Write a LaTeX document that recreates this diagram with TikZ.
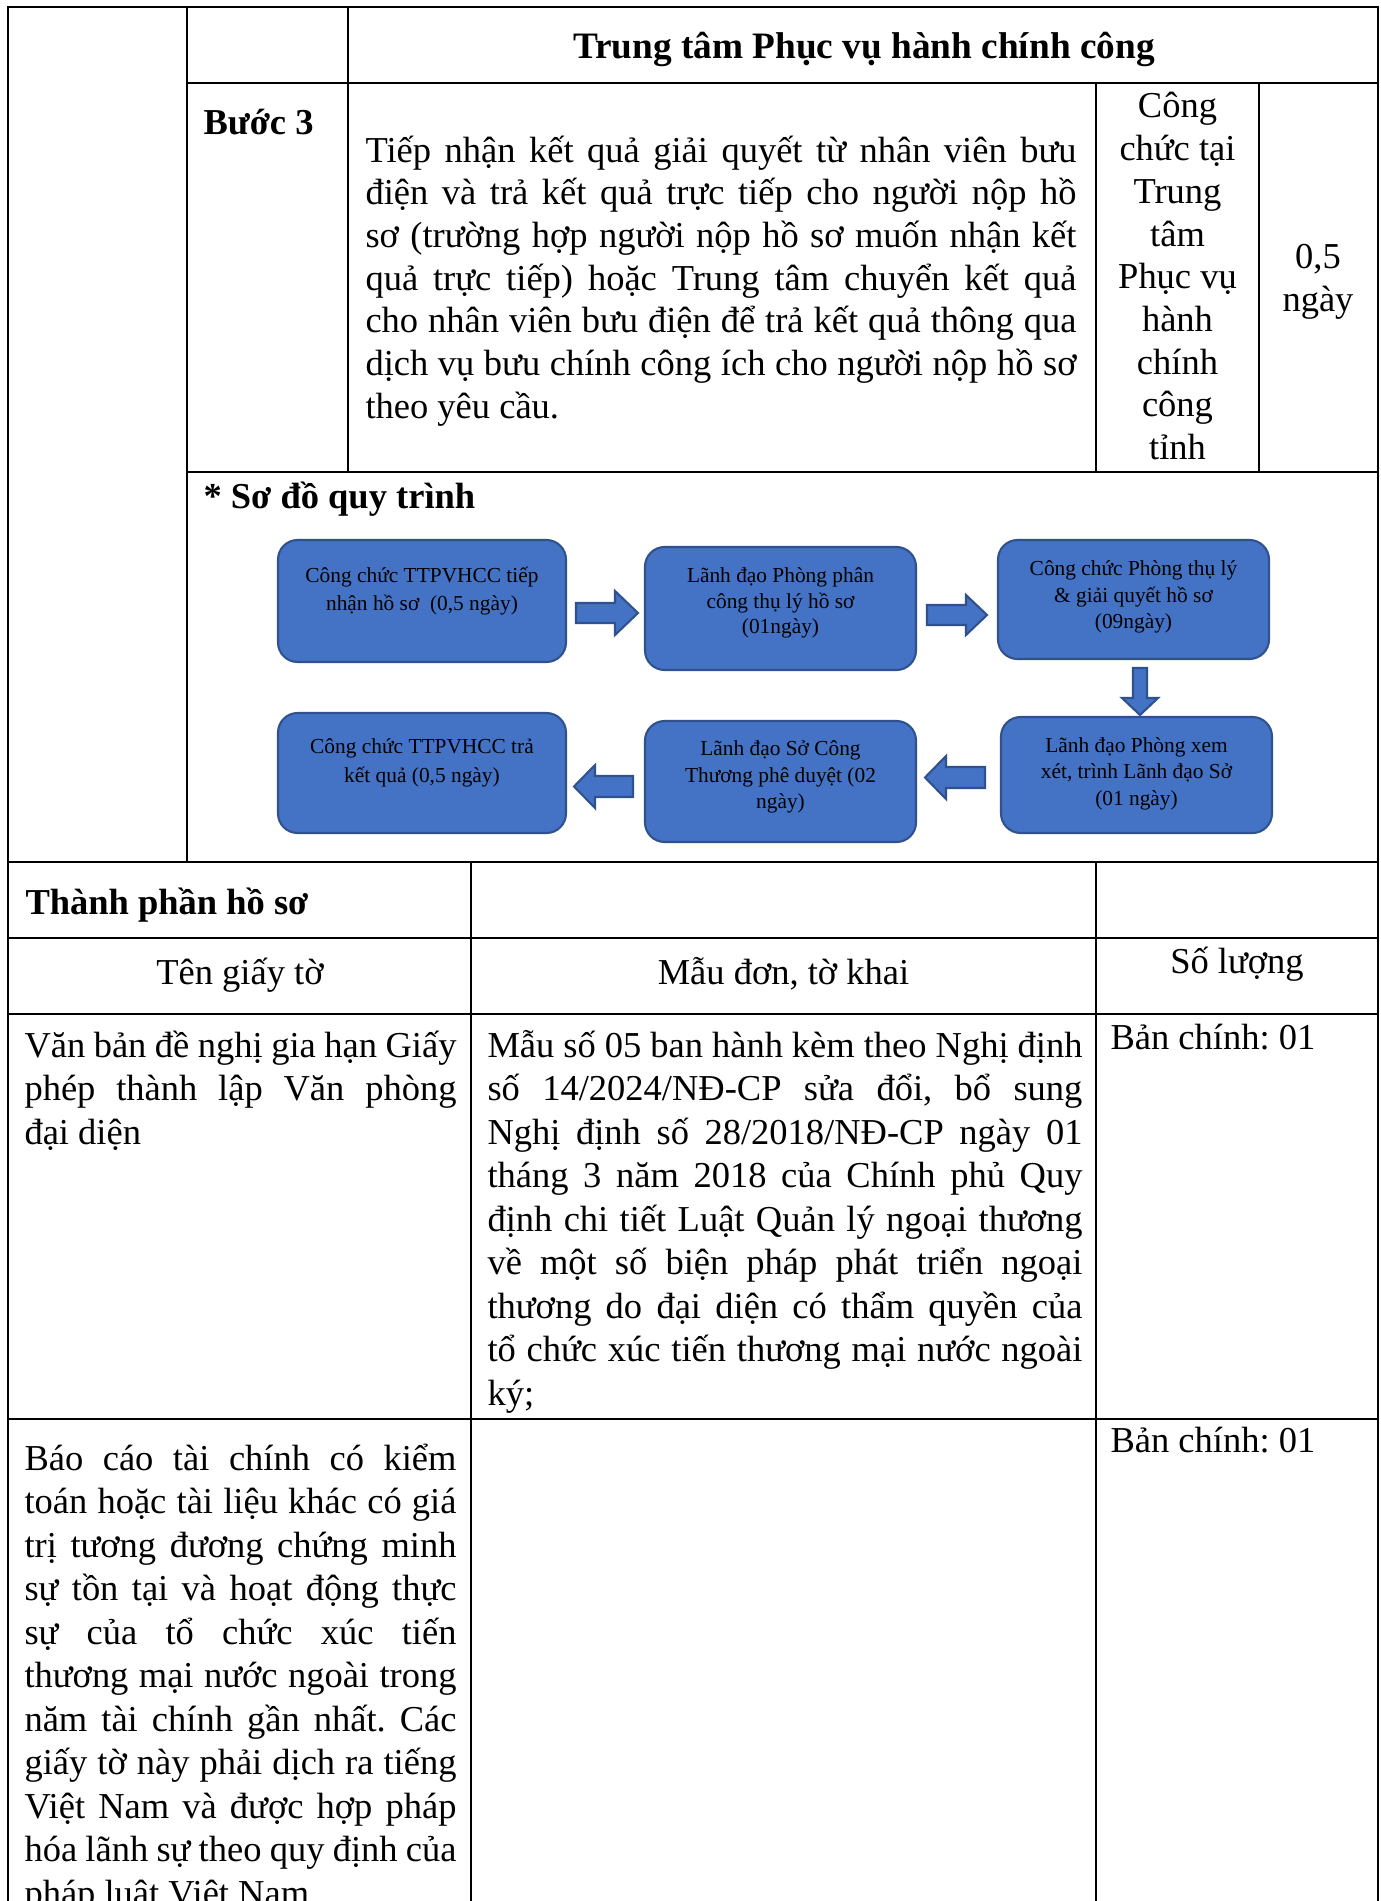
\documentclass[tikz,border=0pt]{standalone}
\usepackage{fontspec}
\setmainfont{Liberation Serif}
\usetikzlibrary{calc}
\frenchspacing
\newdimen\pxu
\pxu=0.3836pt
\definecolor{boxfill}{HTML}{4472C4}
\definecolor{boxedge}{HTML}{2F528F}
\tikzset{
  grid/.style={line width=0.85pt, line cap=rect},
  tl/.style={anchor=base west, inner sep=0pt, font=\fontsize{14}{16}\selectfont},
  tc/.style={anchor=base, inner sep=0pt, font=\fontsize{14}{16}\selectfont},
  tlb/.style={tl, font=\fontsize{14}{16}\selectfont\bfseries},
  tcb/.style={tc, font=\fontsize{14.3}{16}\selectfont\bfseries},
  flowbox/.style={draw=boxedge, fill=boxfill, line width=0.8pt, rounded corners=7.5pt, inner sep=0pt},
  flowtxt/.style={anchor=base, inner sep=0pt, font=\fontsize{8.2}{10}\selectfont},
  blockarrow/.style={draw=boxedge, fill=boxfill, line width=0.8pt, line join=miter}
}
\begin{document}
\begin{tikzpicture}[x=0.3836pt, y=-0.3836pt]
\useasboundingbox (0,0) rectangle (1381,1901);
\fill[white] (0,0) rectangle (1381,1901);

% ---------- table grid ----------
\draw[grid] (8,7) -- (1378,7);
\draw[grid] (8,7) -- (8,1905);
\draw[grid] (1378,7) -- (1378,1905);
\draw[grid] (187,7) -- (187,862);
\draw[grid] (348,7) -- (348,472);
\draw[grid] (187,83) -- (1378,83);
\draw[grid] (1096,83) -- (1096,472);
\draw[grid] (1259,83) -- (1259,472);
\draw[grid] (187,472) -- (1378,472);
\draw[grid] (8,862) -- (1378,862);
\draw[grid] (471,862) -- (471,1905);
\draw[grid] (1096,862) -- (1096,1905);
\draw[grid] (8,938) -- (1378,938);
\draw[grid] (8,1014) -- (1378,1014);
\draw[grid] (8,1419) -- (1378,1419);

% ---------- header and step 3 ----------
\node[tcb] (head) at (864,59) {Trung tâm Phục vụ hành chính công};
\node[tlb] (step) at (203,135) {Bước 3};

\foreach \t [count=\i from 0] in {
  {Tiếp nhận kết quả giải quyết từ nhân viên bưu},
  {điện và trả kết quả trực tiếp cho người nộp hồ},
  {sơ (trường hợp người nộp hồ sơ muốn nhận kết},
  {quả trực tiếp) hoặc Trung tâm chuyển kết quả},
  {cho nhân viên bưu điện để trả kết quả thông qua},
  {dịch vụ bưu chính công ích cho người nộp hồ sơ}}
  {\node[tl] (par\i) at (365,{162+42.7*\i}) {\makebox[711\pxu][s]{\t}};}
\node[tl] (par6) at (365,{162+42.7*6}) {theo yêu cầu.};

\foreach \t [count=\i from 0] in {Công,chức tại,Trung,tâm,Phục vụ,hành,chính,công,tỉnh}
  {\node[tc] (who\i) at (1177.5,{118+42.7*\i}) {\t};}

\node[tc] (time1) at (1318,268) {0,5};
\node[tc] (time2) at (1318,311) {ngày};

% ---------- process diagram ----------
\node[tlb] (sodo) at (203,508) {* Sơ đồ quy trình};

\node[flowbox, minimum width=288\pxu, minimum height=122\pxu] (b1) at (422,601) {};
\node[flowbox, minimum width=271\pxu, minimum height=123\pxu] (b2) at (780.5,608.5) {};
\node[flowbox, minimum width=271\pxu, minimum height=119\pxu] (b3) at (1133.5,599.5) {};
\node[flowbox, minimum width=288\pxu, minimum height=120\pxu] (b4) at (422,773) {};
\node[flowbox, minimum width=271\pxu, minimum height=121\pxu] (b5) at (780.5,781.5) {};
\node[flowbox, minimum width=271\pxu, minimum height=116\pxu] (b6) at (1136.5,775) {};

\node[flowtxt] (b1a) at (422,582) {Công chức TTPVHCC tiếp};
\node[flowtxt] (b1b) at (422,610) {nhận hồ sơ\ \ (0,5 ngày)};

\node[flowtxt] (b2a) at (780.5,582) {Lãnh đạo Phòng phân};
\node[flowtxt] (b2b) at (780.5,608) {công thụ lý hồ sơ};
\node[flowtxt] (b2c) at (780.5,633) {(01ngày)};

\node[flowtxt] (b3a) at (1133.5,575) {Công chức Phòng thụ lý};
\node[flowtxt] (b3b) at (1133.5,602) {\& giải quyết hồ sơ};
\node[flowtxt] (b3c) at (1133.5,628) {(09ngày)};

\node[flowtxt] (b4a) at (422,753) {Công chức TTPVHCC trả};
\node[flowtxt] (b4b) at (422,782) {kết quả (0,5 ngày)};

\node[flowtxt] (b5a) at (780.5,755) {Lãnh đạo Sở Công};
\node[flowtxt] (b5b) at (780.5,782) {Thương phê duyệt (02};
\node[flowtxt] (b5c) at (780.5,808) {ngày)};

\node[flowtxt] (b6a) at (1136.5,752) {Lãnh đạo Phòng xem};
\node[flowtxt] (b6b) at (1136.5,778) {xét, trình Lãnh đạo Sở};
\node[flowtxt] (b6c) at (1136.5,805) {(01 ngày)};

% block arrows
\draw[blockarrow] (576,603) -- (615,603) -- (615,591) -- (638,613) -- (615,635) -- (615,623) -- (576,623) -- cycle;
\draw[blockarrow] (927,605) -- (966,605) -- (966,595) -- (987,615) -- (966,635) -- (966,625) -- (927,625) -- cycle;
\draw[blockarrow] (1133,668) -- (1147,668) -- (1147,698) -- (1158,698) -- (1140,715) -- (1122,698) -- (1133,698) -- cycle;
\draw[blockarrow] (985,767) -- (946,767) -- (946,756) -- (925,777.5) -- (946,799) -- (946,788) -- (985,788) -- cycle;
\draw[blockarrow] (633,776) -- (595,776) -- (595,765) -- (574,786.5) -- (595,808) -- (595,797) -- (633,797) -- cycle;

% ---------- documents table ----------
\node[tlb] (tp) at (25,914) {Thành phần hồ sơ};
\node[tc] (h1) at (240,984) {Tên giấy tờ};
\node[tc] (h2) at (783.5,984) {Mẫu đơn, tờ khai};
\node[tc] (h3) at (1237,973) {Số lượng};

\node[tl] (v0) at (24,1057) {\makebox[432\pxu][s]{Văn bản đề nghị gia hạn Giấy}};
\node[tl] (v1) at (24,{1057+43.5}) {\makebox[432\pxu][s]{phép thành lập Văn phòng}};
\node[tl] (v2) at (24,{1057+87}) {đại diện};

\foreach \t [count=\i from 0] in {
  {Mẫu số 05 ban hành kèm theo Nghị định},
  {số 14/2024/NĐ-CP sửa đổi, bổ sung},
  {Nghị định số 28/2018/NĐ-CP ngày 01},
  {tháng 3 năm 2018 của Chính phủ Quy},
  {định chi tiết Luật Quản lý ngoại thương},
  {về một số biện pháp phát triển ngoại},
  {thương do đại diện có thẩm quyền của},
  {tổ chức xúc tiến thương mại nước ngoài}}
  {\node[tl] (m\i) at (487,{1057+43.5*\i}) {\makebox[595\pxu][s]{\t}};}
\node[tl] (m8) at (487,{1057+43.5*8}) {ký;};

\node[tl] (q1) at (1110,1049) {Bản chính: 01};
\node[tl] (q2) at (1110,1452) {Bản chính: 01};

\foreach \t [count=\i from 0] in {
  {Báo cáo tài chính có kiểm},
  {toán hoặc tài liệu khác có giá},
  {trị tương đương chứng minh},
  {sự tồn tại và hoạt động thực},
  {sự của tổ chức xúc tiến},
  {thương mại nước ngoài trong},
  {năm tài chính gần nhất. Các},
  {giấy tờ này phải dịch ra tiếng},
  {Việt Nam và được hợp pháp},
  {hóa lãnh sự theo quy định của}}
  {\node[tl] (r\i) at (24,{1470+43.5*\i}) {\makebox[432\pxu][s]{\t}};}
\node[tl] (r10) at (24,{1470+43.5*10}) {pháp luật Việt Nam};
\end{tikzpicture}
\end{document}
